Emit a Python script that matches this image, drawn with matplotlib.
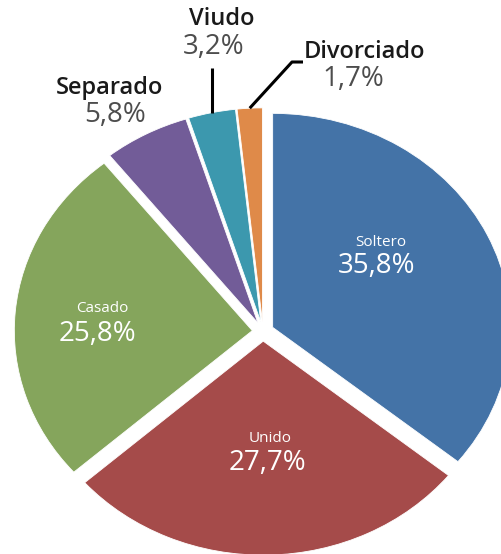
import numpy as np
import matplotlib
matplotlib.use("Agg")
import matplotlib.pyplot as plt

plt.rcParams['font.family'] = ['Open Sans', 'DejaVu Sans']

# data
labels = ['Soltero', 'Unido', 'Casado', 'Separado', 'Viudo', 'Divorciado']
values = [35.8, 27.7, 25.8, 5.8, 3.2, 1.7]
colors = ['#4473a7', '#a54b4a', '#85a55c', '#725c98', '#3c98ae', '#df8a49']

# layout (pixels of the 502x554 image)
X0, Y0 = 263, 331.5      # pie centre
RX, RY = 238, 214        # pie is a bit wider than tall
W, H = 502, 554

def px(x, y):
    return (x - X0) / RX, (Y0 - y) / RY

fig = plt.figure(figsize=(W / 100, H / 100), dpi=100)
ax = fig.add_axes([0, 0, 1, 1])

explode = [0.045] * len(values)
wedges, _ = ax.pie(values, colors=colors, startangle=90, counterclock=False,
                   explode=explode, radius=1,
                   wedgeprops=dict(edgecolor='white', linewidth=0.6))

ax.set_aspect('auto')
ax.set_xlim(px(0, 0)[0], px(W, 0)[0])
ax.set_ylim(px(0, H)[1], px(0, 0)[1])
ax.axis('off')

def pct(v):
    return f"{v:.1f}%".replace('.', ',')

# labels inside the big slices: (name pos, value pos)
inner = {
    'Soltero': ((381, 242), (377, 266)),
    'Unido': ((270, 438), (267, 463)),
    'Casado': ((102, 308), (97, 334)),
}
# labels outside the small slices
outer = {
    'Separado': ((110, 88), (115, 115)),
    'Viudo': ((222, 19), (214, 47)),
    'Divorciado': ((365, 52), (353, 79)),
}

for lab, v in zip(labels, values):
    if lab in inner:
        (nx, ny), (vx, vy) = inner[lab]
        ax.text(*px(nx, ny), lab, color='white', fontsize=11,
                ha='center', va='center')
        ax.text(*px(vx, vy), pct(v), color='white', fontsize=20,
                ha='center', va='center')
    else:
        (nx, ny), (vx, vy) = outer[lab]
        ax.text(*px(nx, ny), lab, color='#1a1a1a', fontsize=17,
                fontweight='semibold', ha='center', va='center')
        ax.text(*px(vx, vy), pct(v), color='#4d4d4d', fontsize=20,
                ha='center', va='center')

# leader lines from the outer edge of Viudo and Divorciado
def edge_point(w):
    ang = np.deg2rad((w.theta1 + w.theta2) / 2)
    cx, cy = w.center
    return cx + np.cos(ang), cy + np.sin(ang)

i_v = labels.index('Viudo')
x1, y1 = edge_point(wedges[i_v])
ax.plot([x1, x1], [y1, px(0, 68)[1]], color='black', lw=2.2,
        solid_capstyle='butt')

i_d = labels.index('Divorciado')
x1, y1 = edge_point(wedges[i_d])
ex, ey = px(292, 62)
hx, _ = px(303, 62)
ax.plot([x1, ex, hx], [y1, ey, ey], color='black', lw=2.2,
        solid_capstyle='butt')

fig.savefig('out.png', dpi=100)
